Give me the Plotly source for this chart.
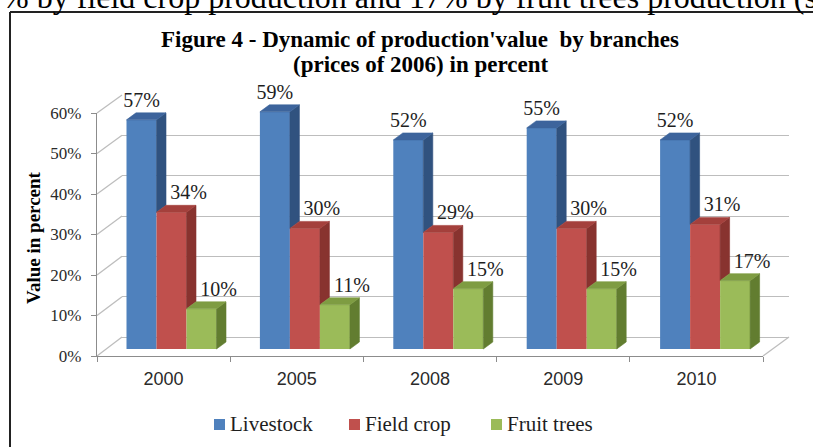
import plotly.graph_objects as go

# ---------------- data ----------------
years = ["2000", "2005", "2008", "2009", "2010"]
livestock = [57, 59, 52, 55, 52]
field_crop = [34, 30, 29, 30, 31]
fruit_trees = [10, 11, 15, 15, 17]
series_names = ["Livestock", "Field crop", "Fruit trees"]
y_ticks = [0, 10, 20, 30, 40, 50, 60]

# ---------------- styling / geometry ----------------
W, H = 813, 447
SERIF = "Liberation Serif, Times New Roman, serif"
SANS = "Liberation Sans, Arial, sans-serif"

front_col = ["#4F81BD", "#C0504D", "#9BBB59"]
side_col = ["#30527F", "#88332F", "#627D30"]
top_col = ["#3D649C", "#A4403C", "#7E9C42"]
GRID = "#BDBDBD"
AXIS = "#8C8C8C"


def fx(p):
    return p / W


def fy(p):
    return (H - p) / H


# front (axis) frame in px
FL, FR, F0, F60 = 97, 763, 356, 113
# back wall in px
BL, BR, B0, B60 = 122, 789, 337, 95


def front_py(t):
    return F0 + (F60 - F0) * t / 60.0


def back_py(t):
    return B0 + (B60 - B0) * t / 60.0


# bar drawing scale (front faces)
GROUP0, STEP = 171.5, 133.4
BASE, PPU = 349.0, 4.02
BAR_W = 30.0 / STEP
DDX = 9.5 / STEP
DDY = 7.0 / PPU

series = [livestock, field_crop, fruit_trees]
xi = list(range(len(years)))

fig = go.Figure()

# back wall subplot (xy) - only gridlines
fig.add_trace(go.Scatter(x=[None], y=[None], xaxis="x", yaxis="y",
                         showlegend=False, hoverinfo="skip"))

# bars subplot (x2y2)
for k, (name, vals) in enumerate(zip(series_names, series)):
    off = (k - 1.5) * BAR_W
    fig.add_trace(go.Bar(
        x=xi, y=vals, width=BAR_W, offset=off, name=name,
        marker=dict(color=front_col[k], line=dict(width=0)),
        xaxis="x2", yaxis="y2", hoverinfo="skip", showlegend=False,
    ))

for k, vals in enumerate(series):
    off = (k - 1.5) * BAR_W
    nxt = series[k + 1] if k + 1 < len(series) else None
    sx, sy, tx, ty = [], [], [], []
    for i, v in enumerate(vals):
        xl = i + off
        xr = xl + BAR_W
        low = nxt[i] if (nxt is not None and nxt[i] < v) else 0
        sx += [xr, xr + DDX, xr + DDX, xr, xr, None]
        sy += [low, low + DDY, v + DDY, v, low, None]
        tx += [xl, xl + DDX, xr + DDX, xr, xl, None]
        ty += [v, v + DDY, v + DDY, v, v, None]
    fig.add_trace(go.Scatter(x=sx, y=sy, fill="toself", mode="lines",
                             fillcolor=side_col[k],
                             line=dict(color=side_col[k], width=0.6),
                             xaxis="x2", yaxis="y2", showlegend=False,
                             hoverinfo="skip"))
    fig.add_trace(go.Scatter(x=tx, y=ty, fill="toself", mode="lines",
                             fillcolor=top_col[k],
                             line=dict(color=top_col[k], width=0.6),
                             xaxis="x2", yaxis="y2", showlegend=False,
                             hoverinfo="skip"))

# data labels
for k, vals in enumerate(series):
    off = (k - 1.5) * BAR_W
    shift = 0.0 if k == 0 else 17.0 / STEP
    lx = [i + off + BAR_W / 2 + shift for i in xi]
    ly = [v + 18.0 / PPU for v in vals]
    fig.add_trace(go.Scatter(
        x=lx, y=ly, mode="text", text=[f"{v}%" for v in vals],
        textposition="middle center",
        textfont=dict(family=SERIF, size=20, color="#1E1E1E"),
        xaxis="x2", yaxis="y2", showlegend=False, hoverinfo="skip",
        cliponaxis=False,
    ))

# front axes subplot (x3y3)
fig.add_trace(go.Scatter(x=years, y=[None] * len(years), xaxis="x3", yaxis="y3",
                         showlegend=False, hoverinfo="skip"))

shapes = []
# left wall diagonals (one per tick)
for t in y_ticks:
    shapes.append(dict(type="line", xref="paper", yref="paper", layer="below",
                       x0=fx(FL), y0=fy(front_py(t)), x1=fx(BL), y1=fy(back_py(t)),
                       line=dict(color=GRID, width=1.3)))
# floor right edge
shapes.append(dict(type="line", xref="paper", yref="paper", layer="below",
                   x0=fx(FR), y0=fy(F0), x1=fx(BR), y1=fy(B0),
                   line=dict(color=GRID, width=1.3)))
# outer frame of the figure in the document (top and left edges)
shapes.append(dict(type="line", xref="paper", yref="paper", layer="above",
                   x0=fx(10), y0=fy(12), x1=1, y1=fy(12),
                   line=dict(color="#222222", width=2)))
shapes.append(dict(type="line", xref="paper", yref="paper", layer="above",
                   x0=fx(10), y0=fy(12), x1=fx(10), y1=0,
                   line=dict(color="#222222", width=2)))

# legend (drawn as squares + labels)
LEG_SQ_X = [214, 349, 491]
LEG_TX_X = [228, 363, 505]
LEG_Y = 424.5
annotations = []
for k, name in enumerate(series_names):
    shapes.append(dict(type="rect", xref="paper", yref="paper", layer="above",
                       x0=fx(LEG_SQ_X[k]), x1=fx(LEG_SQ_X[k] + 11),
                       y0=fy(LEG_Y - 5.5), y1=fy(LEG_Y + 5.5),
                       fillcolor=front_col[k], line=dict(width=0)))
    annotations.append(dict(text=name, xref="paper", yref="paper",
                            x=fx(LEG_TX_X[k]), y=fy(LEG_Y - 1), xanchor="left",
                            yanchor="middle", showarrow=False,
                            font=dict(family=SERIF, size=21, color="#1E1E1E")))

annotations += [
    dict(text="% by field crop production and 17% by fruit trees production (s",
         xref="paper", yref="paper", x=0, y=fy(-3), xanchor="left",
         yanchor="middle", showarrow=False,
         font=dict(family=SERIF, size=32, color="#000000")),
    dict(text="<b>Figure 4 - Dynamic of production'value  by branches</b>",
         xref="paper", yref="paper", x=fx(420), y=fy(39.5), xanchor="center",
         yanchor="middle", showarrow=False,
         font=dict(family=SERIF, size=23, color="#000000")),
    dict(text="<b>(prices of 2006) in percent</b>",
         xref="paper", yref="paper", x=fx(420), y=fy(64.5), xanchor="center",
         yanchor="middle", showarrow=False,
         font=dict(family=SERIF, size=23, color="#000000")),
    dict(text="<b>Value in percent</b>", textangle=-90,
         xref="paper", yref="paper", x=fx(33), y=fy(238), xanchor="center",
         yanchor="middle", showarrow=False,
         font=dict(family=SERIF, size=19, color="#000000")),
]

fig.update_layout(
    width=W, height=H,
    margin=dict(l=0, r=0, t=0, b=0, autoexpand=False),
    paper_bgcolor="white",
    plot_bgcolor="rgba(0,0,0,0)",
    barmode="overlay",
    showlegend=False,
    # back wall
    xaxis=dict(domain=[fx(BL), fx(BR)], range=[0, 1], visible=False,
               anchor="y"),
    yaxis=dict(domain=[fy(B0), fy(B60)], range=[0, 60], anchor="x",
               tickvals=y_ticks, showticklabels=False, ticks="",
               showgrid=True, gridcolor=GRID, gridwidth=1.3,
               zeroline=True, zerolinecolor=GRID, zerolinewidth=1.3,
               showline=False),
    # bars
    xaxis2=dict(domain=[0, 1], range=[(0 - GROUP0) / STEP, (W - GROUP0) / STEP],
                visible=False, anchor="y2"),
    yaxis2=dict(domain=[0, 1], range=[(BASE - H) / PPU, BASE / PPU],
                visible=False, anchor="x2"),
    # front axes
    xaxis3=dict(domain=[fx(FL), fx(FR)], anchor="y3", type="category",
                categoryorder="array", categoryarray=years,
                range=[-0.5, len(years) - 0.5],
                tickson="boundaries", ticks="outside", ticklen=5,
                tickcolor=AXIS, showline=True, linecolor=AXIS, linewidth=1.3,
                showgrid=False, zeroline=False, ticklabelstandoff=6,
                tickfont=dict(family=SANS, size=18, color="#2A2A2A")),
    yaxis3=dict(domain=[fy(F0), fy(F60)], anchor="x3", range=[0, 60],
                tickvals=y_ticks, ticktext=[f"{t}%" for t in y_ticks],
                ticks="outside", ticklen=5, tickcolor=AXIS,
                showline=True, linecolor=AXIS, linewidth=1.3,
                showgrid=False, zeroline=False, ticklabelstandoff=6,
                tickfont=dict(family=SERIF, size=17, color="#2A2A2A")),
    shapes=shapes,
    annotations=annotations,
)

fig.write_html("out.html",
               config={"displayModeBar": False},
               post_script="document.body.style.margin='0';"
                           "document.body.style.overflow='hidden';")
